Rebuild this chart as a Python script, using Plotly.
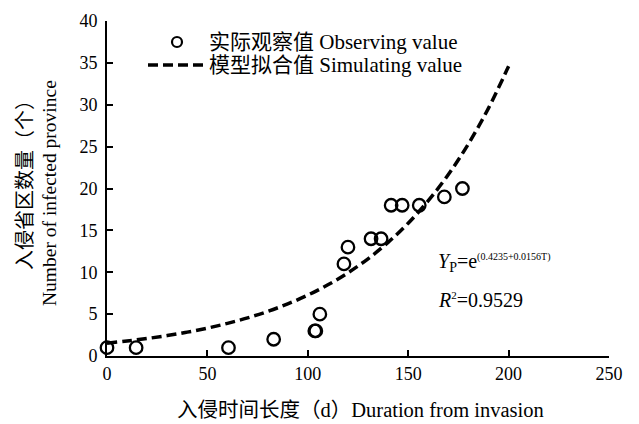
import plotly.graph_objects as go

# Observed data (duration in days, number of infected provinces)
obs_days = [0, 14.5, 60.5, 83, 103.5, 104, 106, 118, 120, 131.5, 136.5, 141.5, 147, 155.5, 168, 177]
obs_count = [1, 1, 1, 2, 3, 3, 5, 11, 13, 14, 14, 18, 18, 18, 19, 20]

# Simulated (fitted) curve values
sim_days = [0, 10, 20, 30, 40, 50, 60, 70, 80, 90, 100, 110, 120, 130, 140, 150, 160, 170, 180, 190, 200]
sim_count = [1.53, 1.79, 2.09, 2.44, 2.85, 3.33, 3.90, 4.55, 5.32, 6.22, 7.27, 8.50, 9.93,
             11.61, 13.57, 15.86, 18.54, 21.67, 25.33, 29.60, 34.60]

x_ticks = [0, 50, 100, 150, 200, 250]
y_ticks = [0, 5, 10, 15, 20, 25, 30, 35, 40]

FONT = "Liberation Serif, Noto Sans CJK SC, serif"

fig = go.Figure()
fig.add_trace(go.Scatter(
    x=sim_days, y=sim_count, mode="lines", line_shape="spline",
    line=dict(color="black", width=3.5, dash="10px,5px"),
    showlegend=False, cliponaxis=False))
fig.add_trace(go.Scatter(
    x=obs_days, y=obs_count, mode="markers",
    marker=dict(symbol="circle-open", size=12.5, color="black", line=dict(width=2.3, color="black")),
    showlegend=False, cliponaxis=False))

L, R, T, B = 107, 30, 21, 68
W, H = 639, 424
pw, ph = W - L - R, H - T - B

def px(xp):
    return (xp - L) / pw

def py(yp):
    return (H - B - yp) / ph

shapes = [
    dict(type="line", xref="paper", yref="paper", x0=px(148), x1=px(205), y0=py(65), y1=py(65),
         line=dict(color="black", width=3.5, dash="10px,5px")),
    dict(type="circle", xref="paper", yref="paper", xsizemode="pixel", ysizemode="pixel",
         xanchor=px(177), yanchor=py(42), x0=-5, x1=5, y0=-5, y1=5,
         line=dict(color="black", width=2.2)),
]

annotations = [
    dict(xref="paper", yref="paper", x=px(207), y=py(42), xanchor="left", yanchor="middle",
         text="实际观察值 Observing value", showarrow=False, font=dict(size=21, family=FONT, color="black")),
    dict(xref="paper", yref="paper", x=px(207), y=py(65), xanchor="left", yanchor="middle",
         text="模型拟合值 Simulating value", showarrow=False, font=dict(size=21, family=FONT, color="black")),
    dict(xref="paper", yref="paper", x=px(436), y=py(262), xanchor="left", yanchor="middle",
         text="<i>Y</i><sub>P</sub>=e<sup><span style='font-size:10px'>(0.4235+0.0156T)</span></sup>",
         showarrow=False, font=dict(size=20, family=FONT, color="black")),
    dict(xref="paper", yref="paper", x=px(436), y=py(300), xanchor="left", yanchor="middle",
         text="<i>R</i><sup><span style='font-size:11px'>2</span></sup>=0.9529", showarrow=False,
         font=dict(size=20, family=FONT, color="black")),
    dict(xref="paper", yref="paper", x=px(360), y=py(410), xanchor="center", yanchor="middle",
         text="入侵时间长度（d）Duration from invasion", showarrow=False,
         font=dict(size=20.5, family=FONT, color="black")),
    dict(xref="paper", yref="paper", x=px(25), y=py(180), xanchor="center", yanchor="middle",
         text="入侵省区数量（个）", textangle=-90, showarrow=False,
         font=dict(size=20, family=FONT, color="black")),
    dict(xref="paper", yref="paper", x=px(49), y=py(193), xanchor="center", yanchor="middle",
         text="Number of infected province", textangle=-90, showarrow=False,
         font=dict(size=19.5, family=FONT, color="black")),
]

fig.update_layout(
    width=W, height=H,
    margin=dict(l=L, r=R, t=T, b=B),
    paper_bgcolor="white", plot_bgcolor="white",
    font=dict(family=FONT, size=18, color="black"),
    shapes=shapes, annotations=annotations,
    xaxis=dict(range=[0, 250], tickvals=x_ticks, ticks="inside", ticklen=6, tickwidth=1.5,
               tickcolor="black", showline=True, linecolor="black", linewidth=1.8,
               showgrid=False, zeroline=False, tickfont=dict(size=18, family=FONT)),
    yaxis=dict(range=[0, 40], tickvals=y_ticks, ticks="inside", ticklen=6, tickwidth=1.5,
               tickcolor="black", showline=True, linecolor="black", linewidth=1.8,
               showgrid=False, zeroline=False, tickfont=dict(size=18, family=FONT),
               ticklabelstandoff=4),
)

fig.write_html("out.html", config={"displayModeBar": False},
               post_script="document.body.style.margin='0px';")
